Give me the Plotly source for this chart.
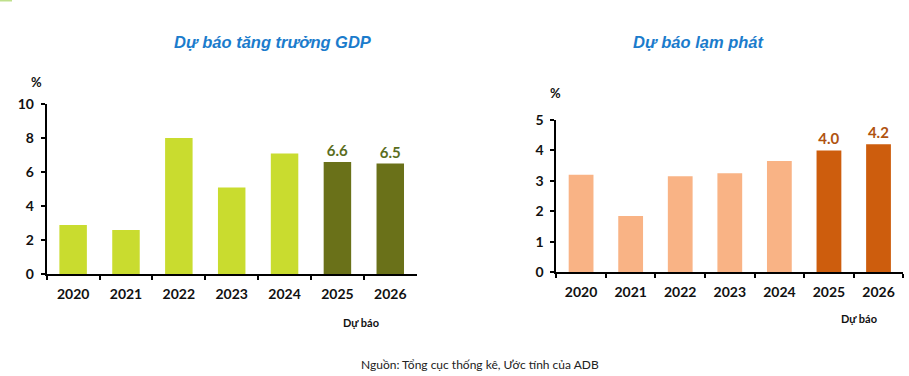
import plotly.graph_objects as go

years = ["2020", "2021", "2022", "2023", "2024", "2025", "2026"]
gdp_values = [2.9, 2.6, 8.0, 5.1, 7.1, 6.6, 6.5]
inflation_values = [3.2, 1.84, 3.15, 3.25, 3.65, 4.0, 4.2]
is_forecast = [False, False, False, False, False, True, True]

gdp_ticks = [0, 2, 4, 6, 8, 10]
inf_ticks = [0, 1, 2, 3, 4, 5]

GDP_LIGHT, GDP_DARK = "#c9dc2f", "#6a7119"
INF_LIGHT, INF_DARK = "#f9b385", "#cd5d0d"

gdp_colors = [GDP_DARK if f else GDP_LIGHT for f in is_forecast]
inf_colors = [INF_DARK if f else INF_LIGHT for f in is_forecast]
gdp_text = [f"{v:.1f}" if f else "" for v, f in zip(gdp_values, is_forecast)]
inf_text = [f"{v:.1f}" if f else "" for v, f in zip(inflation_values, is_forecast)]

TICK_FONT = dict(family="Lato, Open Sans, sans-serif", size=14, color="#111111", weight="bold")

fig = go.Figure()
fig.add_trace(go.Bar(x=years, y=gdp_values, marker=dict(color=gdp_colors, line=dict(width=0)),
                     width=0.52, text=gdp_text, textposition="outside", cliponaxis=False,
                     textfont=dict(family="Lato, sans-serif", size=15, color="#5b6e1e", weight="bold"),
                     xaxis="x", yaxis="y", hoverinfo="skip"))
fig.add_trace(go.Bar(x=years, y=inflation_values, marker=dict(color=inf_colors, line=dict(width=0)),
                     width=0.5, text=inf_text, textposition="outside", cliponaxis=False,
                     textfont=dict(family="Lato, sans-serif", size=15, color="#b0530f", weight="bold"),
                     xaxis="x2", yaxis="y2", hoverinfo="skip"))

W, H = 909, 376
def px_x(v):
    return v / W
def px_y(v):
    return 1 - v / H

axis_common = dict(showline=True, linecolor="black", linewidth=2, showgrid=False, zeroline=False,
                   ticks="outside", ticklen=4, tickwidth=1.5, tickcolor="black", tickfont=TICK_FONT,
                   automargin=False)

fig.update_layout(
    width=W, height=H, margin=dict(l=0, r=0, t=0, b=0, autoexpand=False),
    paper_bgcolor="white", plot_bgcolor="white", showlegend=False,
    xaxis=dict(domain=[px_x(46.7), px_x(416.7)], anchor="y", type="category", range=[-0.5, 6.5],
               tickson="boundaries", ticklabelstandoff=6, **axis_common),
    yaxis=dict(domain=[px_y(274.3), px_y(104)], anchor="x", range=[0, 10], tickvals=gdp_ticks,
               ticklabelstandoff=4, **axis_common),
    xaxis2=dict(domain=[px_x(556.3), px_x(903.3)], anchor="y2", type="category", range=[-0.5, 6.5],
                tickson="boundaries", ticklabelstandoff=6, **axis_common),
    yaxis2=dict(domain=[px_y(272), px_y(120)], anchor="x2", range=[0, 5], tickvals=inf_ticks,
                ticklabelstandoff=4, **axis_common),
)

TITLE_FONT = dict(family="Liberation Sans, Arial, sans-serif", size=16.5, color="#1b7ccc")
LBL_FONT = dict(family="Lato, Open Sans, sans-serif", size=11, color="#111111")
annots = [
    dict(x=px_x(272.5), y=px_y(42), text="<b><i>Dự báo tăng trưởng GDP</i></b>", font=TITLE_FONT),
    dict(x=px_x(699), y=px_y(42), text="<b><i>Dự báo lạm phát</i></b>", font=TITLE_FONT),
    dict(x=px_x(36), y=px_y(82), text="<b>%</b>", font=dict(family="Lato, sans-serif", size=13, color="#111111")),
    dict(x=px_x(555), y=px_y(93), text="<b>%</b>", font=dict(family="Lato, sans-serif", size=13, color="#111111")),
    dict(x=px_x(361), y=px_y(322), text="<b>Dự báo</b>", font=LBL_FONT),
    dict(x=px_x(859), y=px_y(318), text="<b>Dự báo</b>", font=LBL_FONT),
    dict(x=px_x(480), y=px_y(364), text="Nguồn: Tổng cục thống kê, Ước tính của ADB",
         font=dict(family="Lato, Open Sans, sans-serif", size=12, color="#222222")),
]
for a in annots:
    fig.add_annotation(xref="paper", yref="paper", showarrow=False, xanchor="center", yanchor="middle", **a)

fig.add_shape(type="rect", xref="paper", yref="paper", x0=0, x1=px_x(12), y0=px_y(0), y1=px_y(1.5),
              fillcolor="#bfe08c", line=dict(width=0))

fig.write_html("out.html", config={"displayModeBar": False},
               post_script="document.body.style.margin='0';document.body.style.overflow='hidden';")
